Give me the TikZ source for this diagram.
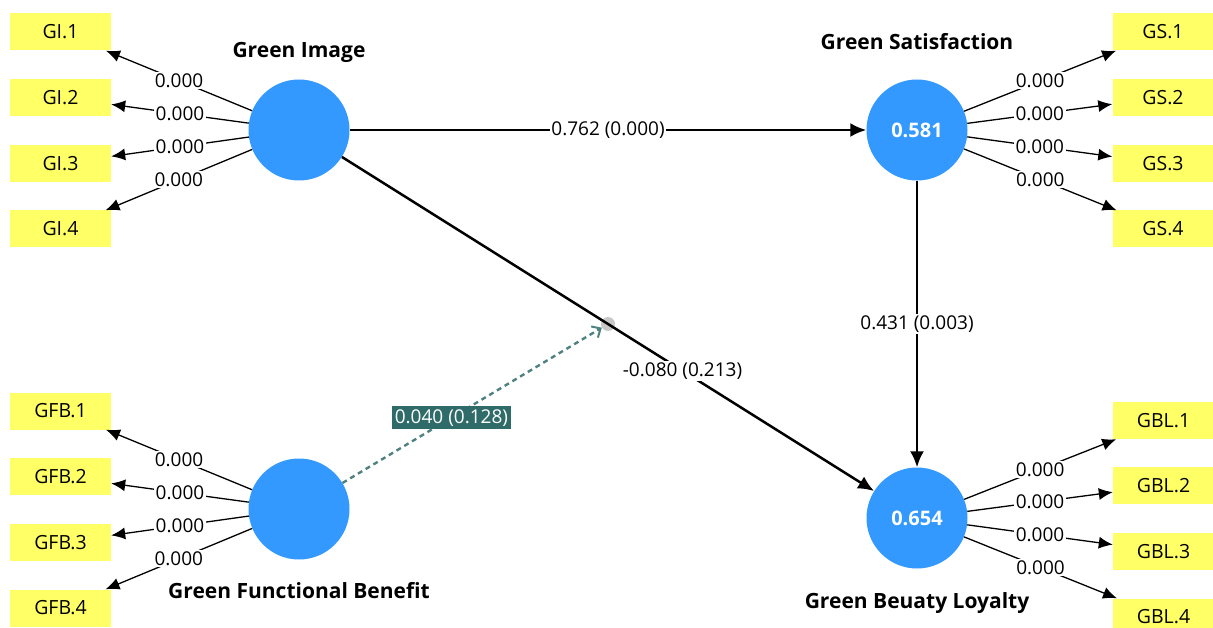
\documentclass[tikz,border=0pt]{standalone}
\usepackage{fontspec}
\setmainfont{Open Sans}
\usepackage{xcolor}
\usepackage{tikz}
\usetikzlibrary{calc}
\usetikzlibrary{arrows.meta}

\definecolor{lvblue}{HTML}{3399FF}
\definecolor{indyellow}{HTML}{FFFF66}
\definecolor{modteal}{HTML}{2F6B69}
\definecolor{modgray}{HTML}{C8C8C8}

\begin{document}
\begin{tikzpicture}[x=1pt, y=-1pt,
  latent/.style={circle, fill=lvblue, minimum size=101pt, inner sep=0pt,
    text=white, font=\fontsize{20}{23}\selectfont\bfseries},
  indicator/.style={rectangle, fill=indyellow, minimum width=101pt,
    minimum height=37pt, inner sep=0pt, font=\fontsize{19.5}{22}\selectfont},
  lvtitle/.style={font=\fontsize{21}{24}\selectfont\bfseries},
  loading/.style={draw, line width=1.3pt, -{Latex[length=14pt, width=12pt]}},
  structural/.style={draw, line width=2.5pt, -{Latex[length=16pt, width=14pt]}},
  moderating/.style={draw=modteal!85, line width=2.4pt, dash pattern=on 5pt off 4pt,
    -{Straight Barb[length=7pt, width=13pt, line width=2pt]}},
  coef/.style={fill=white, inner sep=1.5pt, font=\fontsize{19}{22}\selectfont},
  modcoef/.style={fill=modteal, text=white, inner sep=3pt, font=\fontsize{19}{22}\selectfont},
]
\useasboundingbox (0,0) rectangle (1213,628);

% constructs
\node[latent] (gi) at (299,130) {};
\node[latent] (gs) at (917,130) {0.581};
\node[latent] (gfb) at (299,509) {};
\node[latent] (gbl) at (917,518) {0.654};

\node[lvtitle] (gititle) at (299,52) {Green Image};
\node[lvtitle] (gstitle) at (917,42) {Green Satisfaction};
\node[lvtitle] (gfbtitle) at (299,591) {Green Functional Benefit};
\node[lvtitle] (gbltitle) at (917,603) {Green Beuaty Loyalty};

% indicators
\node[indicator] (gi1) at (60.5,32) {GI.1};
\node[indicator] (gi2) at (60.5,97.5) {GI.2};
\node[indicator] (gi3) at (60.5,163.5) {GI.3};
\node[indicator] (gi4) at (60.5,229) {GI.4};

\node[indicator] (gs1) at (1163,32) {GS.1};
\node[indicator] (gs2) at (1163,97.5) {GS.2};
\node[indicator] (gs3) at (1163,163.5) {GS.3};
\node[indicator] (gs4) at (1163,229) {GS.4};

\node[indicator] (gfb1) at (60.5,411) {GFB.1};
\node[indicator] (gfb2) at (60.5,476.5) {GFB.2};
\node[indicator] (gfb3) at (60.5,542.5) {GFB.3};
\node[indicator] (gfb4) at (60.5,608) {GFB.4};

\node[indicator] (gbl1) at (1163.5,420.5) {GBL.1};
\node[indicator] (gbl2) at (1163.5,485.5) {GBL.2};
\node[indicator] (gbl3) at (1163.5,551.5) {GBL.3};
\node[indicator] (gbl4) at (1163.5,617) {GBL.4};

% outer loadings
\foreach \lv in {gi, gs, gfb, gbl} {
  \foreach \i in {1,...,4} {
    \path[loading] (\lv) -- node[midway, coef] {0.000} (\lv\i);
  }
}

% moderating point sits under the path it acts on
\node[circle, fill=modgray, minimum size=14pt, inner sep=0pt] (mod) at ($(gi)!0.5!(gbl)$) {};

% inner model
\path[structural] (gi) -- node[midway, coef] {0.762 (0.000)} (gs);
\path[structural] (gs) -- node[midway, coef] {0.431 (0.003)} (gbl);
\path[structural] (gi) -- node[pos=0.64, coef] {-0.080 (0.213)} (gbl);

% moderating effect
\path[moderating] (gfb) -- node[pos=0.42, modcoef] {0.040 (0.128)} (mod);

\end{tikzpicture}
\end{document}
